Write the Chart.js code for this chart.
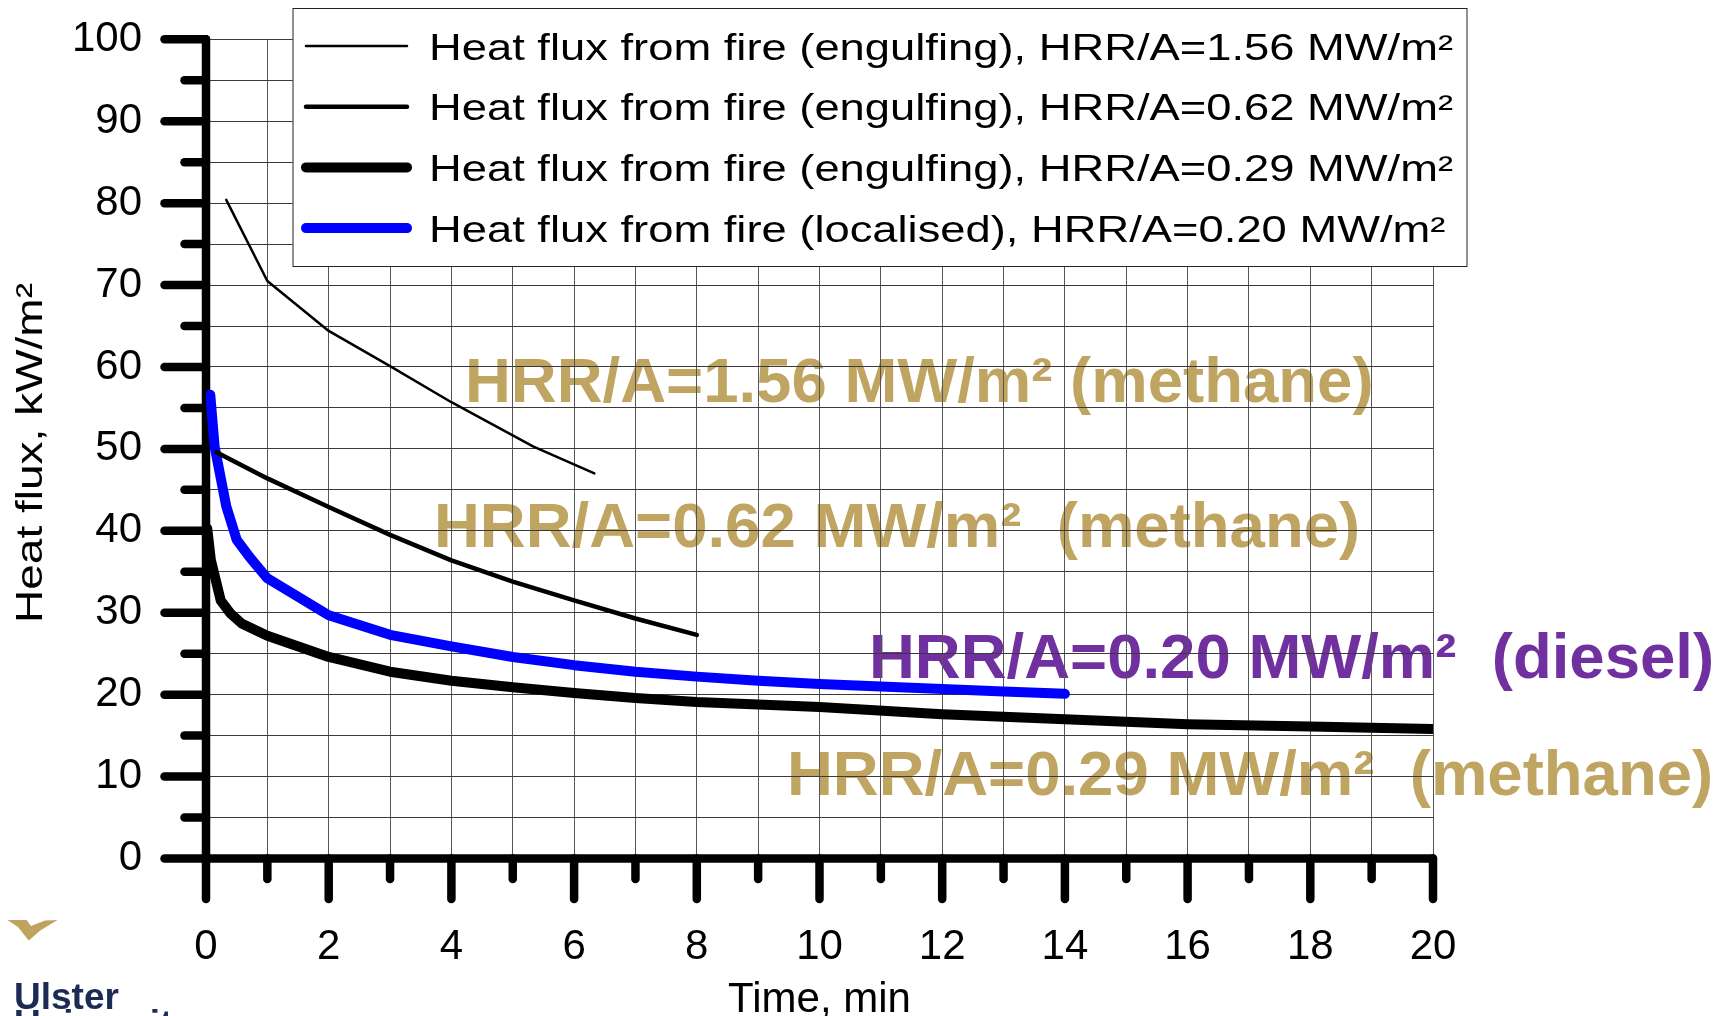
<!DOCTYPE html>
<html>
<head>
<meta charset="utf-8">
<title>Heat flux from fire</title>
<script src="https://cdn.jsdelivr.net/npm/chart.js@4.4.1/dist/chart.umd.min.js"></script>
<style>
  html, body { margin: 0; padding: 0; background: #fff; }
  canvas { display: block; }
</style>
</head>
<body>
<canvas id="chart" width="1720" height="1016"></canvas>
<script>
// Values: time in min, heat flux in kW/m2
const time156 = [0.33, 1, 2, 3, 4, 5.33, 6.33];
const flux156 = [80.4, 70.5, 64.4, 60.1, 55.7, 50.3, 47.0];

const time062 = [0.17, 1, 2, 3, 4, 5, 6, 7, 8];
const flux062 = [49.6, 46.4, 42.9, 39.5, 36.4, 33.8, 31.5, 29.3, 27.3];

const time029 = [0.02, 0.08, 0.24, 0.4, 0.58, 1, 2, 3, 4, 5, 6, 7, 8, 9, 10, 12, 14, 16, 18, 20];
const flux029 = [40.3, 36.4, 31.5, 29.9, 28.7, 27.2, 24.6, 22.8, 21.7, 20.9, 20.2, 19.6, 19.1, 18.8, 18.5, 17.6, 17.0, 16.4, 16.1, 15.8];

const time020 = [0.07, 0.14, 0.33, 0.5, 0.71, 1, 2, 3, 4, 5, 6, 7, 8, 9, 10, 11, 12, 13, 14];
const flux020 = [56.6, 50.3, 43.0, 38.9, 36.8, 34.2, 29.7, 27.3, 25.9, 24.6, 23.6, 22.8, 22.2, 21.7, 21.3, 21.0, 20.7, 20.4, 20.1];

const seriesLabels = [
    'Heat flux from fire (engulfing), HRR/A=1.56 MW/m²',
    'Heat flux from fire (engulfing), HRR/A=0.62 MW/m²',
    'Heat flux from fire (engulfing), HRR/A=0.29 MW/m²',
    'Heat flux from fire (localised), HRR/A=0.20 MW/m²'
];

const noteTexts = [
    'HRR/A=1.56 MW/m² (methane)',
    'HRR/A=0.62 MW/m²  (methane)',
    'HRR/A=0.20 MW/m²  (diesel)',
    'HRR/A=0.29 MW/m²  (methane)'
];

const xTitle = 'Time, min';
const yTitle = 'Heat flux, kW/m²';

const FONT = "'Liberation Sans', Arial, sans-serif";
const GOLD = '#bfa561';
const PURPLE = '#7030a0';

// Where the big notes sit on the canvas (baseline, left)
const NOTE_STYLE = [
    { x: 465, y: 402, color: GOLD },
    { x: 434, y: 547, color: GOLD },
    { x: 869, y: 678, color: PURPLE },
    { x: 787, y: 795, color: GOLD }
];

function points(ts, vs) {
    return ts.map((t, i) => ({ x: t, y: vs[i] }));
}

// White background and the big labels, under the grid
const notesPlugin = {
    id: 'notes',
    beforeDraw(chart) {
        const ctx = chart.ctx;
        ctx.save();
        ctx.fillStyle = '#fff';
        ctx.fillRect(0, 0, chart.width, chart.height);
        ctx.font = `bold 63.5px ${FONT}`;
        ctx.textBaseline = 'alphabetic';
        noteTexts.forEach((t, i) => {
            ctx.fillStyle = NOTE_STYLE[i].color;
            ctx.fillText(t, NOTE_STYLE[i].x, NOTE_STYLE[i].y);
        });
        ctx.restore();
    }
};

// Thick axes with long/short tick marks
const axesPlugin = {
    id: 'thickAxes',
    beforeDatasetsDraw(chart) {
        const { ctx, scales: { x, y } } = chart;
        const x0 = x.getPixelForValue(x.min), x1 = x.getPixelForValue(x.max);
        const y0 = y.getPixelForValue(y.min), y1 = y.getPixelForValue(y.max);
        ctx.save();
        ctx.strokeStyle = '#000';
        ctx.lineWidth = 8.5;
        ctx.lineCap = 'round';
        ctx.lineJoin = 'round';
        ctx.beginPath();
        ctx.moveTo(x0, y1);
        ctx.lineTo(x0, y0);
        ctx.lineTo(x1, y0);
        ctx.stroke();
        y.ticks.forEach(t => {
            const py = y.getPixelForValue(t.value);
            ctx.beginPath();
            ctx.moveTo(x0, py);
            ctx.lineTo(x0 - (t.value % 10 === 0 ? 41.5 : 21.5), py);
            ctx.stroke();
        });
        x.ticks.forEach(t => {
            const px = x.getPixelForValue(t.value);
            ctx.beginPath();
            ctx.moveTo(px, y0);
            ctx.lineTo(px, y0 + (t.value % 2 === 0 ? 40.5 : 20.5));
            ctx.stroke();
        });
        ctx.restore();
    }
};

// Boxed legend, y title and the logo on top
const overlayPlugin = {
    id: 'overlay',
    afterDraw(chart) {
        const ctx = chart.ctx;
        ctx.save();

        // legend box
        ctx.fillStyle = '#fff';
        ctx.fillRect(292.7, 8.3, 1174.6, 258.4);
        ctx.strokeStyle = '#222';
        ctx.lineWidth = 1;
        ctx.strokeRect(293, 8.5, 1174, 258);
        ctx.font = `36px ${FONT}`;
        ctx.textBaseline = 'alphabetic';
        const sx = 1024 / ctx.measureText(chart.data.datasets[0].label).width;
        chart.data.datasets.forEach((ds, i) => {
            const base = 59.5 + i * 60.7;
            ctx.strokeStyle = ds.borderColor;
            ctx.lineWidth = ds.borderWidth;
            ctx.lineCap = 'round';
            ctx.beginPath();
            ctx.moveTo(306, base - 13.5);
            ctx.lineTo(407, base - 13.5);
            ctx.stroke();
            ctx.save();
            ctx.translate(429, base);
            ctx.scale(sx, 1);
            ctx.fillStyle = '#000';
            ctx.fillText(ds.label, 0, 0);
            ctx.restore();
        });

        // y axis title
        ctx.save();
        ctx.font = `36.5px ${FONT}`;
        const w = ctx.measureText(yTitle).width;
        ctx.translate(41.5, 453);
        ctx.rotate(-Math.PI / 2);
        ctx.scale(340 / w, 1);
        ctx.textAlign = 'center';
        ctx.fillStyle = '#000';
        ctx.fillText(yTitle, 0, 0);
        ctx.restore();

        // logo
        ctx.fillStyle = '#bfa35f';
        ctx.beginPath();
        ctx.moveTo(7.5, 920);
        ctx.lineTo(26.5, 920);
        ctx.lineTo(31, 926);
        ctx.lineTo(45, 920.5);
        ctx.lineTo(57.5, 920);
        ctx.lineTo(41, 930);
        ctx.lineTo(28.7, 940.5);
        ctx.lineTo(18, 927);
        ctx.closePath();
        ctx.fill();
        ctx.fillStyle = '#1c2b53';
        ctx.font = `bold 37px ${FONT}`;
        ctx.fillText('Ulster', 14, 1009);
        ctx.fillText('University', 14, 1036);

        ctx.restore();
    }
};

Chart.defaults.font.family = FONT;
Chart.defaults.color = '#000';

new Chart(document.getElementById('chart'), {
    type: 'line',
    data: {
        datasets: [
            { label: seriesLabels[0], data: points(time156, flux156), borderColor: '#000', borderWidth: 2.5 },
            { label: seriesLabels[1], data: points(time062, flux062), borderColor: '#000', borderWidth: 4.5 },
            { label: seriesLabels[2], data: points(time029, flux029), borderColor: '#000', borderWidth: 10 },
            { label: seriesLabels[3], data: points(time020, flux020), borderColor: '#0000ff', borderWidth: 10 }
        ]
    },
    options: {
        responsive: false,
        animation: false,
        devicePixelRatio: 1,
        layout: { padding: { left: 0, top: 39.3, right: 287, bottom: 0 } },
        elements: {
            point: { radius: 0 },
            line: { tension: 0, borderCapStyle: 'round', borderJoinStyle: 'round', fill: false }
        },
        plugins: {
            legend: { display: false },
            tooltip: { enabled: false }
        },
        scales: {
            x: {
                type: 'linear',
                min: 0,
                max: 20,
                afterFit(scale) { scale.height = 157.5; },
                border: { display: false },
                // invisible tick marks only push the labels away from the axis
                grid: { drawTicks: true, tickLength: 60, tickColor: 'rgba(0,0,0,0)', color: '#555', lineWidth: 1 },
                ticks: {
                    stepSize: 1,
                    autoSkip: false,
                    maxRotation: 0,
                    padding: 4,
                    font: { size: 42 },
                    color: '#000',
                    callback: v => (v % 2 === 0 ? v : '')
                },
                title: {
                    display: true,
                    text: xTitle,
                    color: '#000',
                    padding: 0,
                    font: { size: 42, lineHeight: 0.75 }
                }
            },
            y: {
                min: 0,
                max: 100,
                afterFit(scale) { scale.width = 206; },
                border: { display: false },
                grid: { drawTicks: true, tickLength: 60, tickColor: 'rgba(0,0,0,0)', color: '#3a3a3a', lineWidth: 1 },
                ticks: {
                    stepSize: 5,
                    autoSkip: false,
                    padding: 4,
                    font: { size: 42 },
                    color: '#000',
                    callback: v => (v % 10 === 0 ? v : '')
                }
            }
        }
    },
    plugins: [notesPlugin, axesPlugin, overlayPlugin]
});
</script>
</body>
</html>
